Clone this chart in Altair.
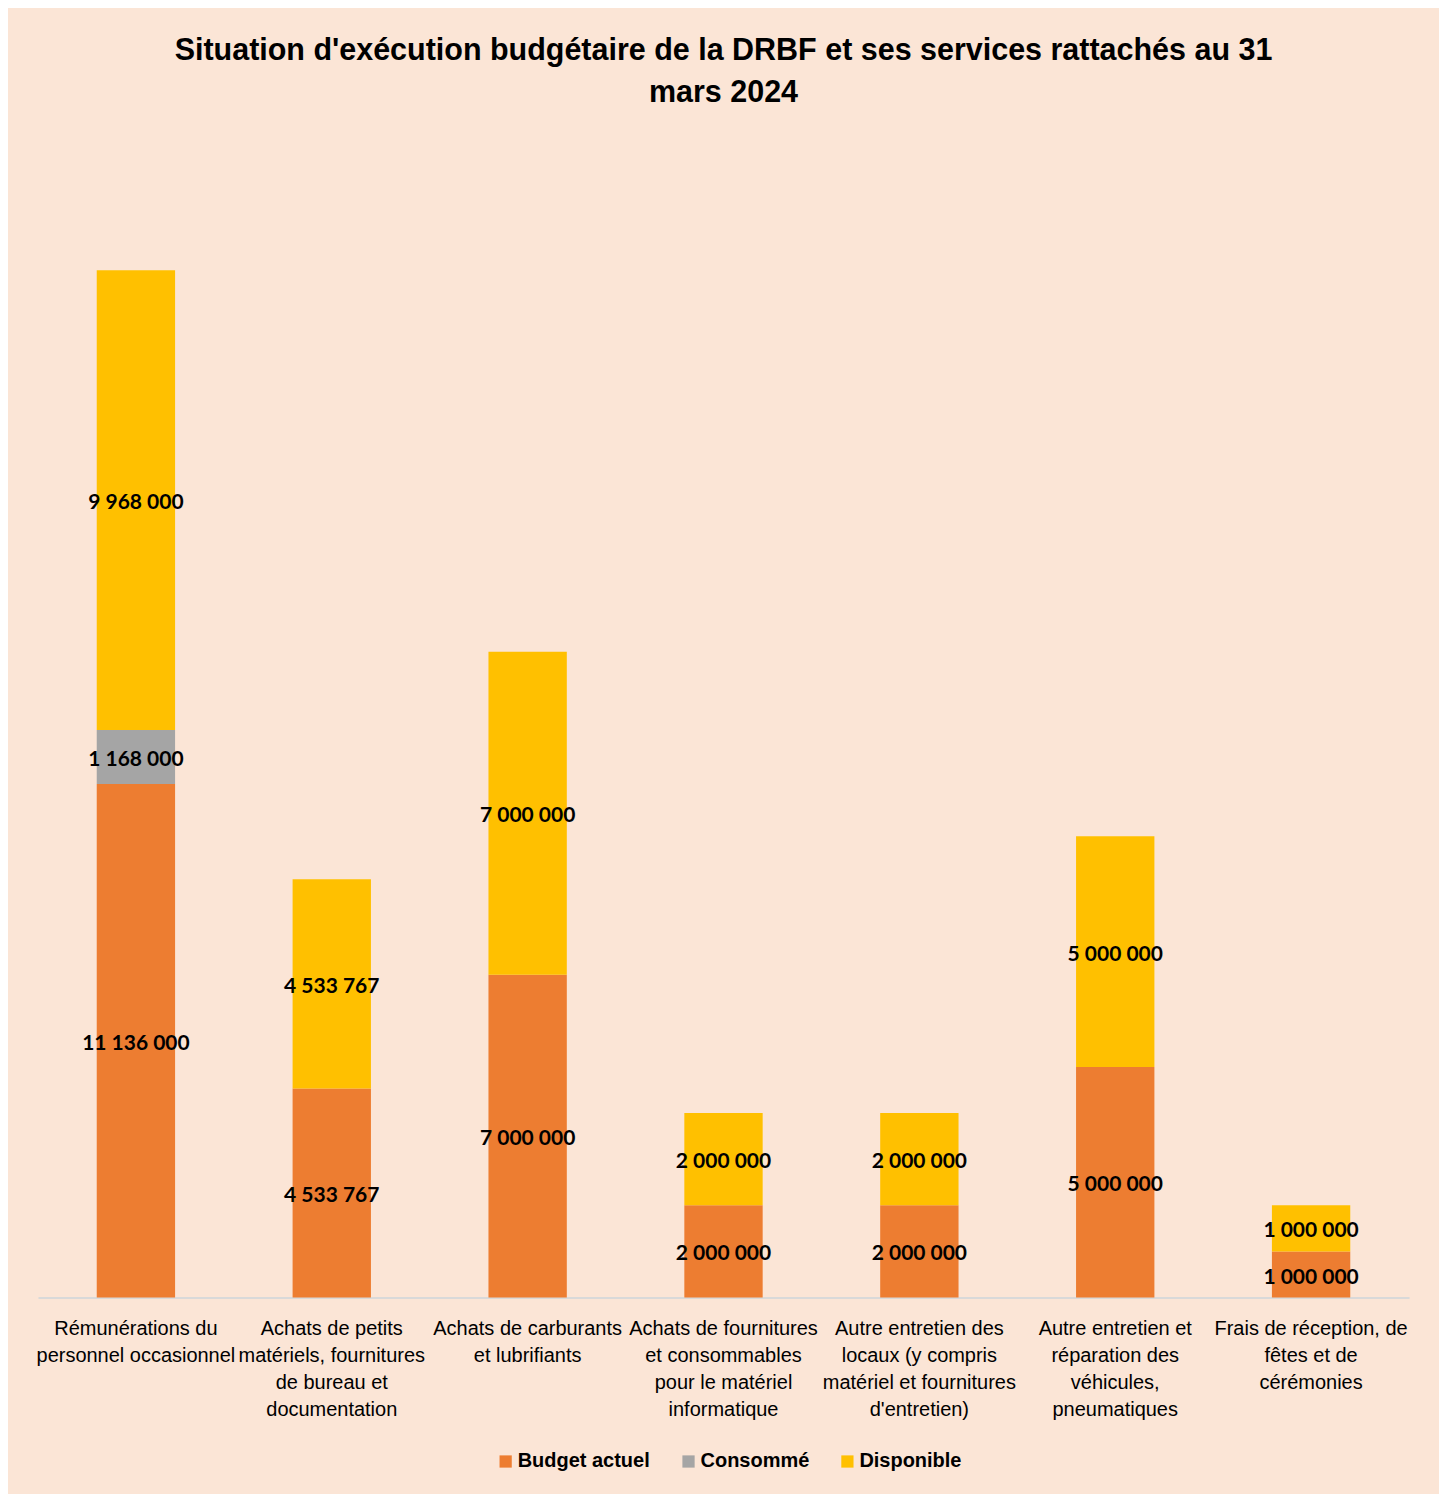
import altair as alt
import pandas as pd

categories = [
    "Rémunérations du|personnel occasionnel",
    "Achats de petits|matériels, fournitures|de bureau et|documentation",
    "Achats de carburants|et lubrifiants",
    "Achats de fournitures|et consommables|pour le matériel|informatique",
    "Autre entretien des|locaux (y compris|matériel et fournitures|d'entretien)",
    "Autre entretien et|réparation des|véhicules,|pneumatiques",
    "Frais de réception, de|fêtes et de|cérémonies",
]
series = ["Budget actuel", "Consommé", "Disponible"]
budget_actuel = [11136000, 4533767, 7000000, 2000000, 2000000, 5000000, 1000000]
consomme = [1168000, 0, 0, 0, 0, 0, 0]
disponible = [9968000, 4533767, 7000000, 2000000, 2000000, 5000000, 1000000]
colors = ["#ED7D31", "#A5A5A5", "#FFC000"]

rows = []
for i, cat in enumerate(categories):
    for j, (s, vals) in enumerate(zip(series, [budget_actuel, consomme, disponible])):
        v = vals[i]
        rows.append({"cat": cat, "serie": s, "order": j, "value": v,
                     "label": f"{v:,}".replace(",", " ")})
df = pd.DataFrame(rows)

NARROW = "Liberation Sans Narrow, Arial Narrow, Liberation Sans, sans-serif"

base = alt.Chart(df).transform_stack(
    stack="value", groupby=["cat"], as_=["v0", "v1"], sort=[alt.SortField("order")]
).transform_calculate(mid="(datum.v0 + datum.v1) / 2")

x = alt.X("cat:N", sort=categories, title=None,
          scale=alt.Scale(paddingInner=0.6, paddingOuter=0.3),
          axis=alt.Axis(labelAngle=0, ticks=False, domainColor="#D9D9D9", domainWidth=2,
                        labelExpr="split(datum.label, '|')", labelFont=NARROW,
                        labelFontSize=20, labelColor="#000000", labelLineHeight=27,
                        labelPadding=21, labelLimit=300))
yscale = alt.Scale(domain=[0, 25000000])

bars = base.mark_bar().encode(
    x=x,
    y=alt.Y("v0:Q", scale=yscale, axis=None),
    y2="v1:Q",
    color=alt.Color("serie:N", scale=alt.Scale(domain=series, range=colors), sort=series,
                    legend=alt.Legend(title=None, orient="none", direction="horizontal",
                                      legendX=458, legendY=1308, symbolType="square",
                                      symbolSize=150, symbolStrokeWidth=0,
                                      labelFont=NARROW, labelFontSize=20,
                                      labelFontWeight="bold", labelColor="#000000",
                                      columnPadding=28, labelOffset=2)),
)

texts = base.transform_filter("datum.value > 0").mark_text(
    font="Lato", fontSize=21, fontWeight="bold", color="#000000", baseline="middle", dy=3
).encode(
    x=alt.X("cat:N", sort=categories),
    y=alt.Y("mid:Q", scale=yscale),
    text="label:N",
)

chart = alt.layer(bars, texts).properties(
    width=1372, height=1154,
    title=alt.TitleParams(
        text=["Situation d'exécution budgétaire de la DRBF et ses services rattachés au 31",
              "mars 2024"],
        font=NARROW, fontSize=30.5, fontWeight="bold", color="#000000",
        anchor="middle", lineHeight=42, offset=36),
    background="#FBE5D6",
    autosize=alt.AutoSizeParams(type="none"),
    padding={"left": 30, "top": 136, "right": 30, "bottom": 196},
).configure_view(stroke=None)

chart.save("out.html", embed_options={"renderer": "svg", "actions": False})
